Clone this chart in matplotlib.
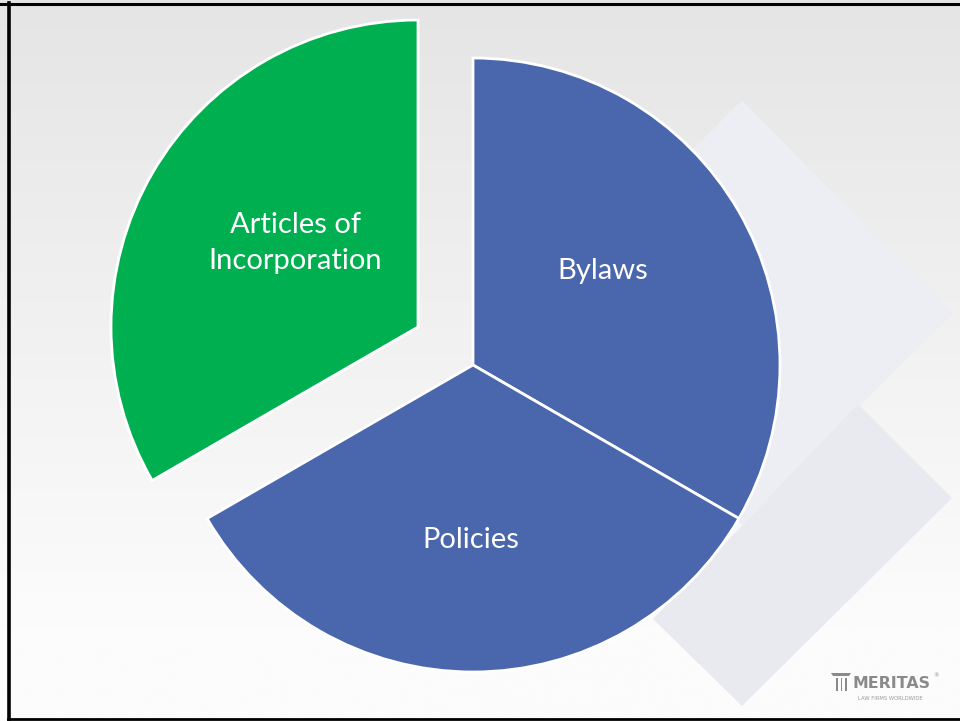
import numpy as np
import matplotlib
matplotlib.use('Agg')
import matplotlib.pyplot as plt
from matplotlib.patches import Polygon, Rectangle

# slide data
labels = ['Bylaws', 'Policies', 'Articles of\nIncorporation']
shares = [1, 1, 1]
colors = ['#4a66ac', '#4a66ac', '#00b050']
# pulled-out offset of the green slice (px, as drawn in the slide)
pull = (-55, 38)

W, H = 960, 721
R = 307
def iy(y):
    # image row -> data y
    return H - y

fig = plt.figure(figsize=(9.6, 7.21), dpi=100)
ax = fig.add_axes([0, 0, 1, 1])

# background gradient
grad = np.linspace(0, 1, 256).reshape(-1, 1)
top = np.array([229, 229, 229]) / 255.
bot = np.array([252, 252, 252]) / 255.
img = top + (bot - top) * np.clip(grad * 1.15, 0, 1)[:, :, None] * np.ones((1, 1, 3))
ax.imshow(img.reshape(256, 1, 3), extent=[0, W, 0, H], aspect='auto', zorder=0)

# faint diamonds behind the pie
up = Polygon([(742, iy(100)), (952, iy(313)), (742, iy(525)), (530, iy(313))],
             closed=True, facecolor='#eceef3', edgecolor='none', zorder=1)
lo = Polygon([(858, iy(404)), (952, iy(498)), (742, iy(706)), (653, iy(619))],
             closed=True, facecolor='#e9eaf0', edgecolor='none', zorder=2)
ax.add_patch(up)
ax.add_patch(lo)

cx, cy = 473, iy(365)
wedges, _ = ax.pie(shares, colors=colors, startangle=90, counterclock=False,
                   radius=R, center=(cx, cy),
                   wedgeprops=dict(edgecolor='white', linewidth=2),
                   frame=True)
for w in wedges:
    w.set_zorder(3)
wedges[2].set_center((cx + pull[0], cy + pull[1]))

ax.set_xlim(0, W)
ax.set_ylim(0, H)
ax.set_aspect('auto')
ax.axis('off')

font = 'Lato'
ax.text(603, iy(271), labels[0], color='white', fontsize=21, family=font,
        ha='center', va='center', zorder=5)
ax.text(471, iy(540), labels[1], color='white', fontsize=21, family=font,
        ha='center', va='center', zorder=5)
ax.text(295, iy(243), labels[2], color='white', fontsize=21, family=font,
        ha='center', va='center', linespacing=1.45, zorder=5)

# logo
g = '#8a8a8a'
ax.add_patch(Polygon([(833, iy(676)), (849, iy(676)), (851, iy(673)), (831, iy(673))],
                     closed=True, facecolor=g, edgecolor='none', zorder=5))
for x in (836, 840.5, 845):
    ax.add_patch(Rectangle((x, iy(691)), 1.6, 13, facecolor=g, edgecolor='none', zorder=5))
ax.text(853, iy(684), 'MERITAS', color=g, fontsize=11.3, family='DejaVu Sans',
        fontweight='semibold', ha='left', va='center', zorder=5)
ax.text(933, iy(676), '®', color=g, fontsize=4, ha='left', va='center', zorder=5)
ax.text(890, iy(698), 'LAW FIRMS WORLDWIDE', color='#9a9a9a', fontsize=3.8,
        ha='center', va='center', zorder=5)

# slide frame
ax.plot([0, W], [iy(3.5), iy(3.5)], color='black', lw=2.2, zorder=6)
ax.plot([8.5, 8.5], [iy(3), iy(719)], color='black', lw=2.6, zorder=6)
ax.plot([8, W], [iy(718.5), iy(718.5)], color='black', lw=2, zorder=6)

fig.savefig('out.png', dpi=100)
